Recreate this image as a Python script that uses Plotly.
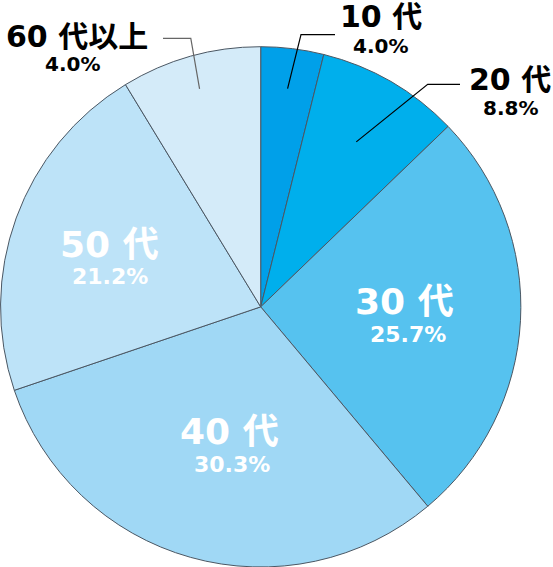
import math
import plotly.graph_objects as go

# age groups, printed shares and the slice sizes as drawn in the picture
groups = ["10 代", "20 代", "30 代", "40 代", "50 代", "60 代以上"]
share_text = ["4.0%", "8.8%", "25.7%", "30.3%", "21.2%", "4.0%"]
slice_sizes = [3.9, 8.9, 26.1, 30.9, 21.5, 8.7]

colors = ["#00a0e9", "#00afec", "#56c2ef", "#a0d8f5", "#bde3f8", "#d4ebf9"]

W, H = 553, 567
CX, CY, R = 260.7, 307.0, 260.3
FONT = "DejaVu Sans, Noto Sans CJK JP, sans-serif"


def px(x, y):
    return x / W, 1 - y / H


fig = go.Figure(go.Pie(
    labels=groups,
    values=slice_sizes,
    sort=False,
    direction="clockwise",
    rotation=0,
    textinfo="none",
    hoverinfo="label+text",
    hovertext=share_text,
    marker=dict(colors=colors, line=dict(color="#4b5763", width=1)),
    domain=dict(x=[0, 2 * CX / W], y=[0, 1 - (CY - R) / H]),
    showlegend=False,
))

# label placement (pixel centres of name / percentage), colour and size
label_pos = [
    ((381, 17), (380, 46.5)),
    ((510, 79), (510, 108)),
    ((404, 301.5), (407.5, 334)),
    ((229, 431.5), (232, 464.5)),
    ((109, 245), (110, 276.5)),
    ((77, 36), (72, 64)),
]
inside = [False, False, True, True, True, False]

annotations = []
for i, g in enumerate(groups):
    (nx, ny), (qx, qy) = label_pos[i]
    col = "white" if inside[i] else "black"
    big, small = (36, 22) if inside[i] else (30, 20)
    for (x, y), txt, size in (((nx, ny), g, big), ((qx, qy), share_text[i], small)):
        ax, ay = px(x, y)
        annotations.append(dict(
            x=ax, y=ay, xref="paper", yref="paper", text=txt, showarrow=False,
            xanchor="center", yanchor="middle",
            font=dict(family=FONT, size=size, color=col, weight="bold"),
        ))

# leader lines for the small outside labels: start inside the slice, bend, run flat
leaders = {0: (0.845, (301, 34.7), (335, 34.7), "black"),
           1: (0.733, (427.7, 84.3), (460, 84.3), "black"),
           5: (0.87, (190.8, 38.3), (163, 38.3), "#666666")}
cum = 0
shapes = []
total = sum(slice_sizes)
for i, v in enumerate(slice_sizes):
    mid = (cum + v / 2) / total * 2 * math.pi
    cum += v
    if i not in leaders:
        continue
    frac, elbow, end, col = leaders[i]
    sx = CX + frac * R * math.sin(mid)
    sy = CY - frac * R * math.cos(mid)
    pts = [px(sx, sy), px(*elbow), px(*end)]
    path = "M {} {} L {} {} L {} {}".format(*[c for p in pts for c in p])
    shapes.append(dict(type="path", path=path, xref="paper", yref="paper",
                       line=dict(color=col, width=1.2)))

fig.update_layout(
    width=W, height=H,
    margin=dict(l=0, r=0, t=0, b=0),
    paper_bgcolor="white",
    plot_bgcolor="white",
    annotations=annotations,
    shapes=shapes,
)

fig.write_html("out.html", config={"displayModeBar": False},
               post_script="document.body.style.margin='0';")
